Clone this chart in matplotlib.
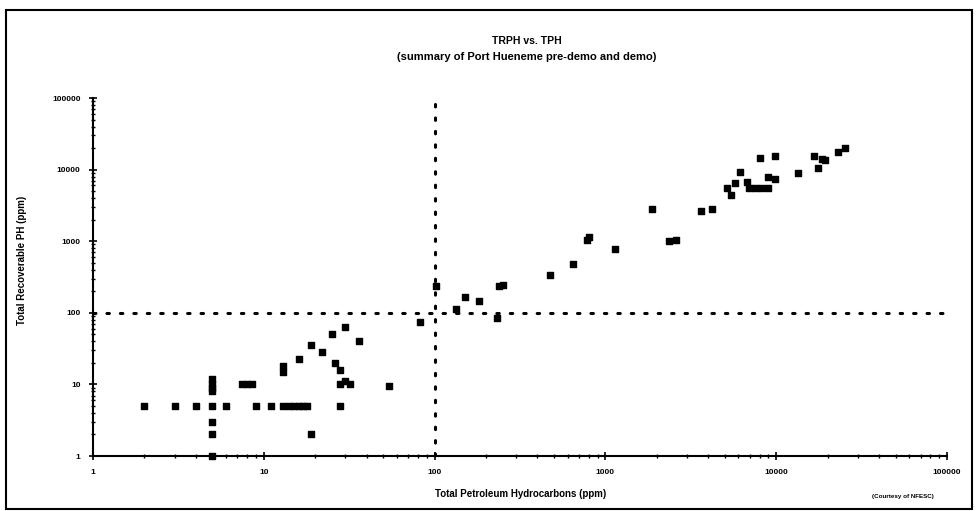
import matplotlib
matplotlib.use("Agg")
import matplotlib.pyplot as plt
from matplotlib.patches import Rectangle
from matplotlib.ticker import LogLocator, FixedFormatter, FixedLocator, NullFormatter

plt.rcParams["font.family"] = ["Liberation Sans", "DejaVu Sans"]

# TPH (x) vs TRPH (y), ppm
tph = [2, 3, 4, 5, 6, 9, 11, 13, 14, 15, 16, 17, 18, 28,
       5, 5, 5, 5, 5, 5, 5,
       7.5, 8, 8.5,
       28, 30, 32, 54,
       19,
       13, 13,
       16, 19, 22, 25, 30, 36, 26, 28,
       82, 102, 133, 150, 182, 232, 238, 250,
       474, 647, 785, 800, 1137, 1870, 2350, 2600, 3630, 4200,
       5150, 5440, 5740, 6140, 6740, 6900, 7500, 8200, 8900, 8040,
       8900, 9800, 9800, 13500, 16600, 17600, 18500, 19300, 23000, 25200]
trph = [5, 5, 5, 5, 5, 5, 5, 5, 5, 5, 5, 5, 5, 5,
        1, 2, 3, 8, 9, 10, 12,
        10, 10, 10,
        10, 11, 10, 9.5,
        2,
        15, 18,
        23, 35, 28, 50, 63, 40, 20, 16,
        74, 237, 113, 167, 146, 85, 237, 243,
        337, 480, 1050, 1150, 780, 2800, 1020, 1050, 2640, 2800,
        5500, 4400, 6500, 9300, 6700, 5500, 5500, 5500, 5500, 14500,
        7800, 7400, 15500, 8900, 15500, 10500, 14000, 13600, 17700, 20000]

tick_vals = [1, 10, 100, 1000, 10000, 100000]
x_tick_labels = ["1", "10", "100", "1000", "10000", "100000"]
y_tick_labels = ["1", "10", "100", "1000", "10000", "100000"]
x_cut = 100
y_cut = 100

fig = plt.figure(figsize=(9.76, 5.11), dpi=100)
fig.patches.append(Rectangle((0.006, 0.004), 0.99, 0.976, transform=fig.transFigure,
                             fill=False, edgecolor="black", linewidth=1.5))

ax = fig.add_axes([0.0953, 0.1076, 0.875, 0.7006])
ax.scatter(tph, trph, marker="s", s=21, color="black", zorder=3, clip_on=False)

ax.axvline(x_cut, color="black", linestyle=(0, (0.8, 3.6)), linewidth=2.2, dash_capstyle="round")
ax.axhline(y_cut, color="black", linestyle=(0, (0.8, 3.6)), linewidth=2.2, dash_capstyle="round")

ax.set_xscale("log")
ax.set_yscale("log")
ax.set_xlim(1, 100000)
ax.set_ylim(1, 100000)

for axis, labels in ((ax.xaxis, x_tick_labels), (ax.yaxis, y_tick_labels)):
    axis.set_major_locator(FixedLocator(tick_vals))
    axis.set_major_formatter(FixedFormatter(labels))
    axis.set_minor_locator(LogLocator(base=10, subs=range(2, 10)))
    axis.set_minor_formatter(NullFormatter())

ax.tick_params(which="major", direction="inout", length=6, width=1.2, labelsize=6, pad=6)
ax.tick_params(which="minor", direction="inout", length=3, width=1)
for lab in ax.get_xticklabels() + ax.get_yticklabels():
    lab.set_fontweight("bold")

ax.spines["top"].set_visible(False)
ax.spines["right"].set_visible(False)
ax.spines["left"].set_linewidth(1.5)
ax.spines["bottom"].set_linewidth(1.5)

fig.text(0.54, 0.92, "TRPH vs. TPH", ha="center", va="center", fontsize=7.5, fontweight="bold")
fig.text(0.54, 0.888, "(summary of Port Hueneme pre-demo and demo)", ha="center", va="center",
         fontsize=8, fontweight="bold")
fig.text(0.533, 0.034, "Total Petroleum Hydrocarbons (ppm)", ha="center", va="center",
         fontsize=7, fontweight="bold")
fig.text(0.023, 0.49, "Total Recoverable PH (ppm)", ha="center", va="center", rotation=90,
         fontsize=7, fontweight="bold")
fig.text(0.925, 0.028, "(Courtesy of NFESC)", ha="center", va="center", fontsize=4.5, fontweight="bold")

fig.savefig("out.png", dpi=100)
